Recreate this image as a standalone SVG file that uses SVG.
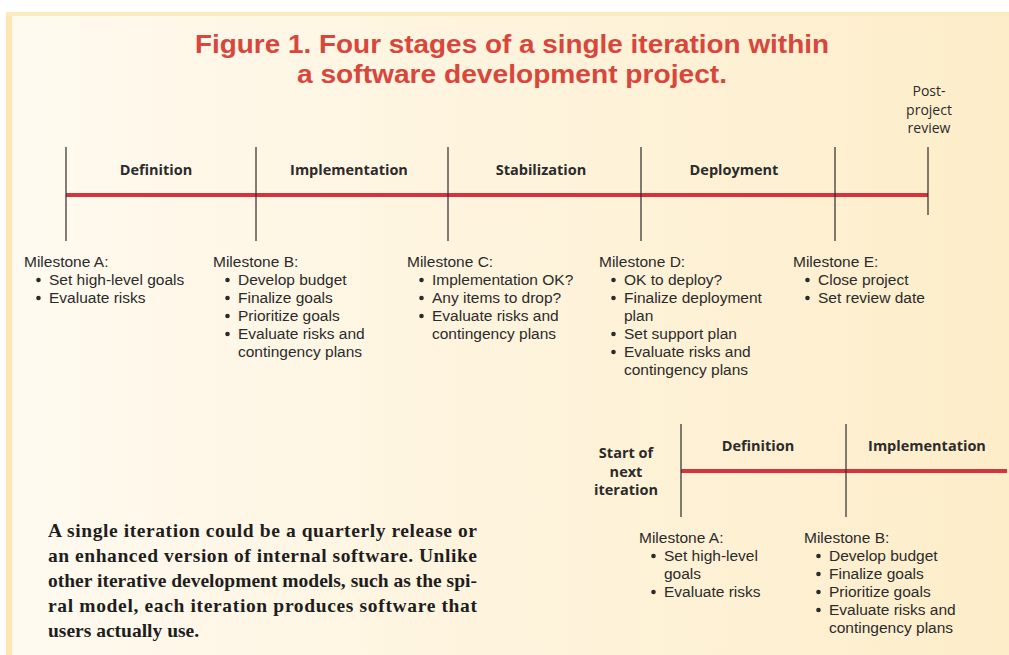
<svg xmlns="http://www.w3.org/2000/svg" width="1009" height="655" viewBox="0 0 1009 655">
<defs>
<linearGradient id="bg" x1="0" y1="0" x2="1" y2="0">
<stop offset="0" stop-color="#fffaf0"/>
<stop offset="1" stop-color="#fdedc9"/>
</linearGradient>
<style>
.title{font-family:"Liberation Sans",Arial,sans-serif;font-weight:bold;font-size:25px;fill:#d8463c;text-anchor:middle}
.stage{font-family:"Open Sans","Liberation Sans",sans-serif;font-weight:bold;font-size:14.5px;fill:#2b2b2b;text-anchor:middle}
.ms{font-family:"Liberation Sans",Arial,sans-serif;font-size:15.5px;fill:#2b2b2b}
.dot{fill:#2b2b2b}
.small{font-family:"Open Sans","Liberation Sans",sans-serif;font-size:14px;fill:#2b2b2b;text-anchor:middle}
.para{font-family:"Liberation Serif","Times New Roman",serif;font-weight:bold;font-size:19.5px;fill:#1e1e1e}
.red{stroke:#d5333e;stroke-width:4;fill:none}
.tick{stroke:#2b2b2b;stroke-width:1.2;fill:none}
</style>
</defs>
<rect x="0" y="0" width="1009" height="655" fill="#ffffff"/>
<rect x="6" y="12" width="1003" height="643" fill="url(#bg)"/>
<rect x="6" y="12" width="6" height="643" fill="#fde6b2"/>
<rect x="6" y="12" width="1003" height="4" fill="#fdebc0"/>

<g id="title">
<text class="title" x="512" y="53" textLength="634" lengthAdjust="spacingAndGlyphs">Figure 1. Four stages of a single iteration within</text>
<text class="title" x="512" y="83" textLength="430" lengthAdjust="spacingAndGlyphs">a software development project.</text>
</g>

<g id="connectors">
<line class="red" x1="66" y1="195" x2="928" y2="195"/>
<line class="tick" x1="66" y1="147" x2="66" y2="241"/>
<line class="tick" x1="256" y1="147" x2="256" y2="241"/>
<line class="tick" x1="448" y1="147" x2="448" y2="241"/>
<line class="tick" x1="641" y1="147" x2="641" y2="241"/>
<line class="tick" x1="835" y1="147" x2="835" y2="241"/>
<line class="tick" x1="928" y1="147" x2="928" y2="215"/>
<line class="red" x1="681" y1="471" x2="1007" y2="471"/>
<line class="tick" x1="681" y1="424" x2="681" y2="517"/>
<line class="tick" x1="846" y1="424" x2="846" y2="517"/>
</g>

<g id="stages">
<text class="stage" x="156" y="175">Definition</text>
<text class="stage" x="349" y="175">Implementation</text>
<text class="stage" x="541" y="175">Stabilization</text>
<text class="stage" x="734" y="175">Deployment</text>
<text class="stage" x="758" y="451">Definition</text>
<text class="stage" x="927" y="451">Implementation</text>
</g>

<g id="post-project-review">
<text class="small" x="929" y="96">Post-</text>
<text class="small" x="929" y="115">project</text>
<text class="small" x="929" y="133">review</text>
</g>

<g id="start-next-iteration">
<text class="stage" x="626" y="458">Start of</text>
<text class="stage" x="626" y="477">next</text>
<text class="stage" x="626" y="495">iteration</text>
</g>

<g id="milestone-a">
<text class="ms" x="24" y="267">Milestone A:</text>
<circle class="dot" cx="38.5" cy="280" r="2.3"/><text class="ms" x="49" y="285">Set high-level goals</text>
<circle class="dot" cx="38.5" cy="298" r="2.3"/><text class="ms" x="49" y="303">Evaluate risks</text>
</g>

<g id="milestone-b">
<text class="ms" x="213" y="267">Milestone B:</text>
<circle class="dot" cx="227.5" cy="280" r="2.3"/><text class="ms" x="238" y="285">Develop budget</text>
<circle class="dot" cx="227.5" cy="298" r="2.3"/><text class="ms" x="238" y="303">Finalize goals</text>
<circle class="dot" cx="227.5" cy="316" r="2.3"/><text class="ms" x="238" y="321">Prioritize goals</text>
<circle class="dot" cx="227.5" cy="334" r="2.3"/><text class="ms" x="238" y="339">Evaluate risks and</text>
<text class="ms" x="238" y="357">contingency plans</text>
</g>

<g id="milestone-c">
<text class="ms" x="407" y="267">Milestone C:</text>
<circle class="dot" cx="421.5" cy="280" r="2.3"/><text class="ms" x="432" y="285">Implementation OK?</text>
<circle class="dot" cx="421.5" cy="298" r="2.3"/><text class="ms" x="432" y="303">Any items to drop?</text>
<circle class="dot" cx="421.5" cy="316" r="2.3"/><text class="ms" x="432" y="321">Evaluate risks and</text>
<text class="ms" x="432" y="339">contingency plans</text>
</g>

<g id="milestone-d">
<text class="ms" x="599" y="267">Milestone D:</text>
<circle class="dot" cx="613.5" cy="280" r="2.3"/><text class="ms" x="624" y="285">OK to deploy?</text>
<circle class="dot" cx="613.5" cy="298" r="2.3"/><text class="ms" x="624" y="303">Finalize deployment</text>
<text class="ms" x="624" y="321">plan</text>
<circle class="dot" cx="613.5" cy="334" r="2.3"/><text class="ms" x="624" y="339">Set support plan</text>
<circle class="dot" cx="613.5" cy="352" r="2.3"/><text class="ms" x="624" y="357">Evaluate risks and</text>
<text class="ms" x="624" y="375">contingency plans</text>
</g>

<g id="milestone-e">
<text class="ms" x="793" y="267">Milestone E:</text>
<circle class="dot" cx="807.5" cy="280" r="2.3"/><text class="ms" x="818" y="285">Close project</text>
<circle class="dot" cx="807.5" cy="298" r="2.3"/><text class="ms" x="818" y="303">Set review date</text>
</g>

<g id="next-milestone-a">
<text class="ms" x="639" y="543">Milestone A:</text>
<circle class="dot" cx="653.5" cy="556" r="2.3"/><text class="ms" x="664" y="561">Set high-level</text>
<text class="ms" x="664" y="579">goals</text>
<circle class="dot" cx="653.5" cy="592" r="2.3"/><text class="ms" x="664" y="597">Evaluate risks</text>
</g>

<g id="next-milestone-b">
<text class="ms" x="804" y="543">Milestone B:</text>
<circle class="dot" cx="818.5" cy="556" r="2.3"/><text class="ms" x="829" y="561">Develop budget</text>
<circle class="dot" cx="818.5" cy="574" r="2.3"/><text class="ms" x="829" y="579">Finalize goals</text>
<circle class="dot" cx="818.5" cy="592" r="2.3"/><text class="ms" x="829" y="597">Prioritize goals</text>
<circle class="dot" cx="818.5" cy="610" r="2.3"/><text class="ms" x="829" y="615">Evaluate risks and</text>
<text class="ms" x="829" y="633">contingency plans</text>
</g>

<g id="caption">
<text class="para" x="48" y="537" textLength="429" lengthAdjust="spacing">A single iteration could be a quarterly release or</text>
<text class="para" x="48" y="562" textLength="429" lengthAdjust="spacing">an enhanced version of internal software. Unlike</text>
<text class="para" x="48" y="587" textLength="429" lengthAdjust="spacing">other iterative development models, such as the spi-</text>
<text class="para" x="48" y="612" textLength="429" lengthAdjust="spacing">ral model, each iteration produces software that</text>
<text class="para" x="48" y="637">users actually use.</text>
</g>
</svg>
